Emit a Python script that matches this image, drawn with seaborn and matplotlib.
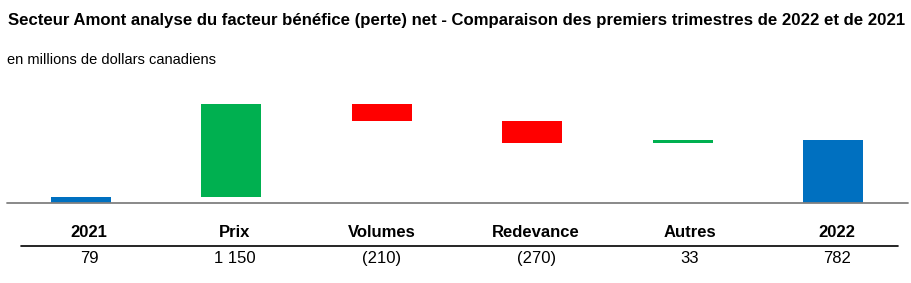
import numpy as np
import pandas as pd
import matplotlib
matplotlib.use("Agg")
import matplotlib.pyplot as plt
import seaborn as sns

categories = ["2021", "Prix", "Volumes", "Redevance", "Autres", "2022"]
values = [79, 1150, -210, -270, 33, 782]
value_labels = ["79", "1 150", "(210)", "(270)", "33", "782"]
kinds = ["total", "delta", "delta", "delta", "delta", "total"]

title = "Secteur Amont analyse du facteur bénéfice (perte) net - Comparaison des premiers trimestres de 2022 et de 2021"
subtitle = "en millions de dollars canadiens"

# waterfall geometry from the values
bottoms, heights, colors = [], [], []
running = 0
for v, k in zip(values, kinds):
    if k == "total":
        bottoms.append(0)
        heights.append(v)
        running = v
        colors.append("#0070C0")
    else:
        if v >= 0:
            bottoms.append(running)
            heights.append(v)
            colors.append("#00B050")
        else:
            bottoms.append(running + v)
            heights.append(-v)
            colors.append("#FF0000")
        running += v

df = pd.DataFrame({"cat": categories, "h": heights})

W, H = 911, 283
sns.set_theme(style="white")
plt.rcParams["font.family"] = ["Liberation Sans", "DejaVu Sans"]
plt.rcParams["text.color"] = "black"
fig = plt.figure(figsize=(W / 100, H / 100), dpi=100)
ax = fig.add_axes([0, 0, 1, 1])

sns.barplot(data=df, x="cat", y="h", order=categories, bottom=bottoms,
            width=0.4, color="#0070C0", ax=ax, errorbar=None, saturation=1)
for p, c in zip(ax.patches, colors):
    p.set_facecolor(c)
    p.set_edgecolor("none")

# pixel mapping: bar 0 centre at x=81px, pitch 150.4px; baseline at y=203px, 0.0806 px/unit
pitch = 150.4
x0 = 81
ax.set_xlim(-x0 / pitch, (W - x0) / pitch)
upp = 1 / 0.0806
ax.set_ylim(-(H - 203) * upp, 203 * upp)
ax.axis("off")

def fx(px):
    return px / W

def fy(py):
    return 1 - py / H

# baseline
fig.add_artist(plt.Line2D([fx(7), fx(908)], [fy(203), fy(203)], color="#808080", lw=1.3))
# table separator
fig.add_artist(plt.Line2D([fx(21), fx(898)], [fy(246), fy(246)], color="black", lw=1.2))

fig.text(fx(8), fy(21), title, fontsize=12.1, fontweight="bold", va="center", ha="left", color="black")
fig.text(fx(7), fy(60), subtitle, fontsize=10.5, va="center", ha="left", color="black")

label_dx = [8, 3, 0, 4, 7, 4]
for i, (c, vl) in enumerate(zip(categories, value_labels)):
    px = x0 + i * pitch + label_dx[i]
    fig.text(fx(px), fy(237), c, fontsize=12, fontweight="bold", ha="center", va="baseline", color="black")
    fig.text(fx(px), fy(263), vl, fontsize=12, ha="center", va="baseline", color="black")

fig.savefig("out.png", dpi=100)
